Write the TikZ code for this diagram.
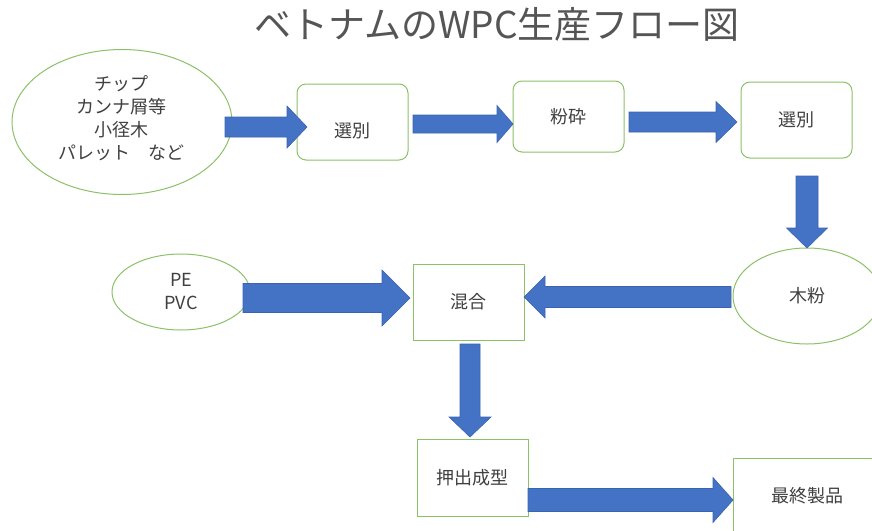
\documentclass[tikz,border=0pt]{standalone}
\usepackage{fontspec}
\setmainfont{Noto Sans CJK JP}
\usetikzlibrary{calc,shapes.geometric}
\definecolor{grn}{HTML}{8CC168}
\definecolor{blu}{HTML}{4472C4}
\definecolor{bluedge}{HTML}{3A64B0}
\definecolor{txt}{HTML}{404040}
\definecolor{ttl}{HTML}{555555}
% #1 tail, #2 tip, #3 shaft half width, #4 head half width, #5 head length
\newcommand\blockarrow[5]{%
  \filldraw[barrow] (#2)
    -- ($(#2)!#5!(#1)!#4!90:(#1)$)
    -- ($(#2)!#5!(#1)!#3!90:(#1)$)
    -- ($(#1)!#3!-90:(#2)$)
    -- ($(#1)!#3!90:(#2)$)
    -- ($(#2)!#5!(#1)!#3!-90:(#1)$)
    -- ($(#2)!#5!(#1)!#4!-90:(#1)$)
    -- cycle;}
\begin{document}
\begin{tikzpicture}[x=1pt,y=-1pt,
  every node/.style={text=txt, font=\fontsize{18}{23}\selectfont, inner sep=0pt, align=center},
  rbox/.style={draw=grn, line width=1pt, rounded corners=9pt, fill=white, minimum width=111pt, minimum height=76pt},
  sbox/.style={draw=grn, line width=1pt, fill=white, minimum width=111pt, minimum height=76pt},
  oval/.style={draw=grn, line width=1pt, ellipse, fill=white},
  barrow/.style={fill=blu, draw=bluedge, line width=0.6pt, line join=miter}]
\useasboundingbox (0,0) rectangle (872,530);
\clip (0,0) rectangle (872,530);

\node[font=\fontsize{37}{40}\selectfont, text=ttl] (title) at (497,24) {ベトナムのWPC生産フロー図};

% shapes
\node[oval, minimum width=220pt, minimum height=145pt] (src) at (122,122) {};
\node (srctext) at (121,118) {チップ\\カンナ屑等\\小径木\\パレット　など};
\node[rbox] (sel1) at (352.5,122) {};
\node (sel1text) at (352.5,131) {選別};
\node[rbox, minimum height=71pt] (crush) at (568.5,116.5) {粉砕};
\node[rbox] (sel2) at (796.5,120) {選別};
\node[oval, minimum width=148pt, minimum height=96pt] (wood) at (807,296) {木粉};
\node[oval, minimum width=138pt, minimum height=76pt] (resin) at (181,292) {PE\\PVC};
\node[sbox] (mix) at (468.5,302) {混合};
\node[sbox, minimum height=77pt] (ext) at (472.5,477.5) {押出成型};
\node[sbox, minimum width=148pt] (fin) at (807,496) {最終製品};

% connector end points
\coordinate (a1s) at (225,127);  \coordinate (a1e) at (307,127);
\coordinate (a2s) at (413,124);  \coordinate (a2e) at (513,124);
\coordinate (a3s) at (629,122);  \coordinate (a3e) at (737,122);
\coordinate (a4s) at (807,176);  \coordinate (a4e) at (807,248);
\coordinate (a5s) at (243,298);  \coordinate (a5e) at (410,298);
\coordinate (a6s) at (731,297);  \coordinate (a6e) at (524,297);
\coordinate (a7s) at (470,344);  \coordinate (a7e) at (470,437);
\coordinate (a8s) at (528,500);  \coordinate (a8e) at (733,500);

% block arrows
\blockarrow{a1s}{a1e}{10pt}{21pt}{20pt}
\blockarrow{a2s}{a2e}{9pt}{18.5pt}{16pt}
\blockarrow{a3s}{a3e}{10pt}{20.5pt}{21pt}
\blockarrow{a4s}{a4e}{11pt}{20.5pt}{20pt}
\blockarrow{a5s}{a5e}{14.5pt}{28pt}{28pt}
\blockarrow{a6s}{a6e}{10.5pt}{21pt}{21pt}
\blockarrow{a7s}{a7e}{10pt}{21pt}{20pt}
\blockarrow{a8s}{a8e}{11.5pt}{22.5pt}{20pt}
\end{tikzpicture}
\end{document}
